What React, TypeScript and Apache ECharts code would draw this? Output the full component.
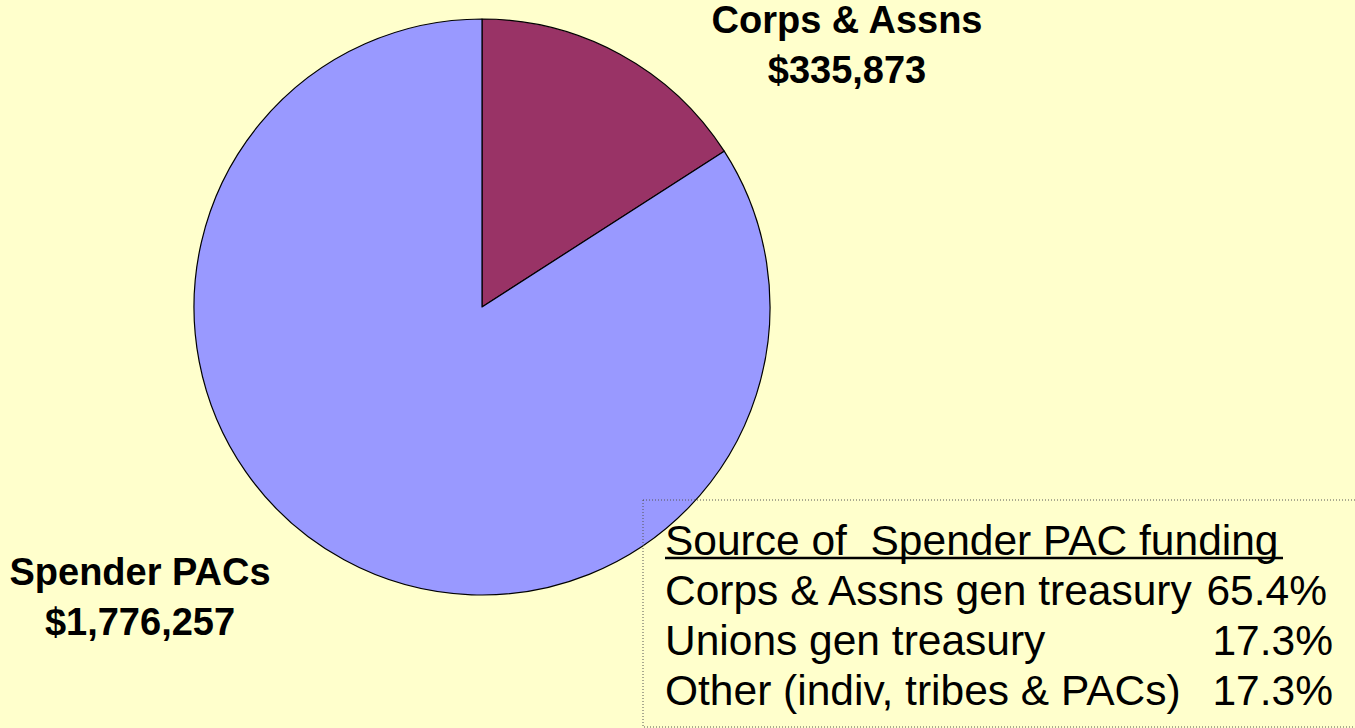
import React, { useEffect, useRef } from "react";
import * as echarts from "echarts";

const sliceNames = ["Corps & Assns", "Spender PACs"];
const sliceValues = [335873, 1776257];
const sliceColors = ["#993366", "#9999FF"];

const fundingTitle = "Source of  Spender PAC funding";
const fundingSources = ["Corps & Assns gen treasury", "Unions gen treasury", "Other (indiv, tribes & PACs)"];
const fundingShares = ["65.4%", "17.3%", "17.3%"];

const labelPos = [
  { x: 847, y: 45 },
  { x: 140, y: 597 },
];
const shareRight = [1327, 1333, 1333];

function fmtMoney(v: number) {
  return "$" + v.toLocaleString("en-US");
}

const legendFont = "42.5px 'Liberation Sans', Arial, sans-serif";

export default function App() {
  const ref = useRef<HTMLDivElement>(null);
  useEffect(() => {
    const chart = echarts.init(ref.current!, undefined, { renderer: "svg" });
    const graphics: any[] = [
      {
        type: "rect",
        shape: { x: 643, y: 500, width: 720, height: 227 },
        style: { fill: "none", stroke: "#555", lineWidth: 1, lineDash: [1, 2] },
        z: 10,
      },
      {
        type: "text",
        x: 665,
        y: 540,
        style: {
          text: fundingTitle,
          font: legendFont,
          fill: "#000",
          textVerticalAlign: "middle",
          textAlign: "left",
        },
        z: 11,
      },
      {
        type: "line",
        shape: { x1: 665, y1: 558, x2: 1283, y2: 558 },
        style: { stroke: "#000", lineWidth: 2.5 },
        z: 11,
      },
    ];
    fundingSources.forEach((s, i) => {
      graphics.push({
        type: "text",
        x: 665,
        y: 590 + i * 50,
        style: {
          text: s,
          font: legendFont,
          fill: "#000",
          textVerticalAlign: "middle",
          textAlign: "left",
        },
        z: 11,
      });
      graphics.push({
        type: "text",
        x: shareRight[i],
        y: 590 + i * 50,
        style: {
          text: fundingShares[i],
          font: legendFont,
          fill: "#000",
          textVerticalAlign: "middle",
          textAlign: "right",
        },
        z: 11,
      });
    });

    chart.setOption({
      animation: false,
      backgroundColor: "#FFFFCC",
      series: [
        {
          type: "pie",
          center: [482, 307],
          radius: [0, 288],
          startAngle: 90,
          clockwise: true,
          silent: true,
          itemStyle: { borderColor: "#000", borderWidth: 1.2 },
          label: {
            show: true,
            formatter: (p: any) => p.name + "\n" + fmtMoney(p.value),
            fontFamily: "'Liberation Sans', Arial, sans-serif",
            fontWeight: "bold",
            fontSize: 38,
            lineHeight: 50,
            color: "#000",
            align: "center",
          },
          labelLine: { show: false },
          labelLayout: (params: any) => ({
            x: labelPos[params.dataIndex].x,
            y: labelPos[params.dataIndex].y,
            align: "center",
            verticalAlign: "middle",
          }),
          data: sliceNames.map((n, i) => ({
            name: n,
            value: sliceValues[i],
            itemStyle: { color: sliceColors[i] },
          })),
        },
      ],
      graphic: graphics,
    });
    return () => chart.dispose();
  }, []);
  return (
    <div
      ref={ref}
      style={{ position: "fixed", left: 0, top: 0, width: 1355, height: 728 }}
    />
  );
}
